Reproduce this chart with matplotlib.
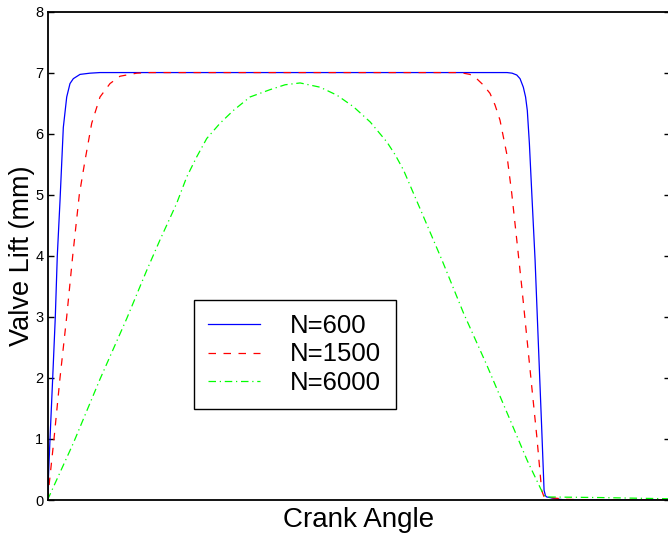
import numpy as np
import matplotlib
matplotlib.use('Agg')
import matplotlib.pyplot as plt

plt.rcParams['font.family'] = ['Liberation Sans', 'DejaVu Sans']

# crank angle (deg) and valve lift (mm) for three engine speeds
ang_600 = [0, 1.45, 3.01, 4.52, 5.67, 7.24, 9.15, 11.12, 13.02, 14.94, 18.82, 24.6, 30.4,
           150.0, 266.0, 268.9, 271.6, 273.5, 275.4, 276.7, 277.7, 278.9, 280.3,
           282.2, 284.1, 286.0, 287.4, 288.2, 288.9, 294.3, 299.5, 360.0]
lift_600 = [0, 1.0, 2.0, 3.0, 4.0, 4.9, 6.1, 6.6, 6.82, 6.9, 6.97, 6.99, 7.0,
            7.0, 7.0, 6.99, 6.96, 6.9, 6.76, 6.6, 6.38, 5.84, 5.02,
            3.93, 2.56, 1.2, 0.16, 0.07, 0.05, 0.02, 0.0, 0.0]

ang_1500 = [0, 3.76, 7.24, 11.11, 14.59, 18.41, 21.71, 25.59, 30.39, 36.18, 41.97,
            51.64, 59.34, 150.0, 238.8, 244.5, 248.4, 252.1, 256.1, 259.0, 261.9,
            265.8, 268.7, 271.6, 274.5, 277.4, 280.3, 283.2, 286.0, 287.4, 300.7,
            319.8, 360.0]
lift_1500 = [0, 1.0, 2.0, 3.0, 4.0, 5.0, 5.56, 6.17, 6.6, 6.82, 6.94,
             6.99, 7.0, 7.0, 7.0, 6.97, 6.9, 6.8, 6.66, 6.47, 6.22,
             5.67, 5.02, 4.26, 3.49, 2.67, 1.85, 1.04, 0.16, 0.05, 0.01,
             0.0, 0.0]

ang_6000 = [0, 14.94, 30.4, 45.84, 57.42, 65.12, 74.79, 80.58, 86.37, 92.16, 99.86,
            107.6, 117.2, 128.8, 137.5, 146.2, 157.8, 167.5, 177.1, 186.8, 196.5,
            201.3, 206.1, 215.8, 228.3, 240.8, 254.4, 267.9, 277.6, 286.2, 288.2,
            320.0, 360.0]
lift_6000 = [0, 0.93, 1.98, 2.97, 3.76, 4.26, 4.86, 5.29, 5.62, 5.92, 6.17,
             6.38, 6.6, 6.72, 6.8, 6.83, 6.76, 6.63, 6.44, 6.19, 5.86,
             5.65, 5.4, 4.76, 3.93, 3.06, 2.2, 1.3, 0.65, 0.14, 0.05,
             0.04, 0.02]

yticks = [0, 1, 2, 3, 4, 5, 6, 7, 8]

fig = plt.figure(figsize=(6.68, 5.36), dpi=100)
W, H = 668, 536
ax = fig.add_axes([47.5 / W, 36 / H, (669.5 - 47.5) / W, (500 - 11.5) / H])

ax.plot(ang_600, lift_600, color='#0000ff', lw=0.9, label='N=600')
ax.plot(ang_1500, lift_1500, color='#ff0000', lw=0.9, dashes=(6, 6), label='N=1500')
ax.plot(ang_6000, lift_6000, color='#00ff00', lw=0.9, dashes=(6, 3, 1, 3), label='N=6000')

ax.set_xlim(0, 360)
ax.set_ylim(0, 8)
ax.set_xticks([])
ax.set_yticks(yticks)
ax.tick_params(axis='y', direction='in', length=4.5, width=1, right=True,
               labelsize=10.5, pad=3)
for s in ax.spines.values():
    s.set_linewidth(1.3)

ax.set_xlabel('Crank Angle', fontsize=20, labelpad=5)
ax.set_ylabel('Valve Lift (mm)', fontsize=19.5, labelpad=0)

leg = ax.legend(loc='upper left', bbox_to_anchor=(194 / W, 1 - 300 / H),
                bbox_transform=fig.transFigure, fontsize=18.5, frameon=True,
                fancybox=False, edgecolor='black', framealpha=1,
                handlelength=2.0, handletextpad=1.2, labelspacing=0.17,
                borderpad=0.55, borderaxespad=0)
leg.get_frame().set_linewidth(1.0)

fig.savefig('out.png', dpi=100)
